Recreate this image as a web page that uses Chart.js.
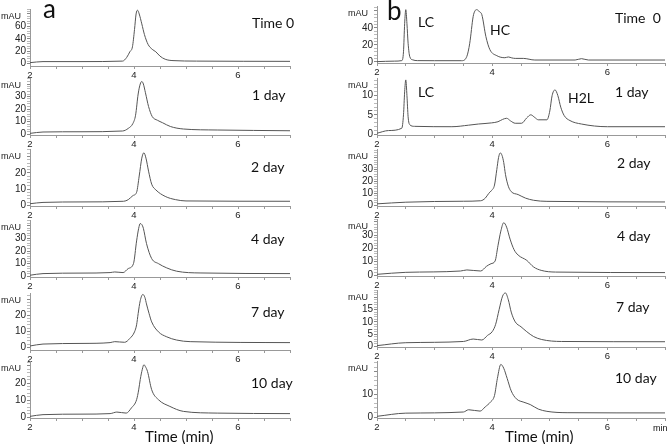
<!DOCTYPE html>
<html>
<head>
<meta charset="utf-8">
<script src="https://cdn.jsdelivr.net/npm/chart.js@4.4.1/dist/chart.umd.min.js"></script>
<style>
  body { margin: 0; background: #fff; }
  #fig { position: relative; width: 669px; height: 444px; overflow: hidden; font-family: Lato, "Open Sans", sans-serif; color: #111; }
  #fig canvas { position: absolute; }
  .note { position: absolute; white-space: pre; line-height: 1; }
</style>
</head>
<body>
<div id="fig"></div>
<script>
// x axis (min) - same for every panel
const xTickValues = [2, 2.5, 3, 3.5, 4, 4.5, 5, 5.5, 6, 6.5, 7];
const xTickLabels = { 2: '2', 4: '4', 6: '6' };

// ---- panel a ----
const timeA0 = [2.0, 2.25, 3.0, 3.78, 3.86, 3.92, 3.97, 4.01, 4.04, 4.07, 4.1, 4.15, 4.2, 4.27, 4.35, 4.42, 4.5, 4.6, 4.75, 5.2, 7.0];
const mauA0  = [1.5, 3.2, 3.2, 4.0, 10, 19, 27, 55, 80, 86, 80, 64, 47, 31, 23, 19, 12, 7, 4.8, 4, 3.6];

const timeA1 = [2.0, 2.25, 3.0, 3.78, 3.89, 3.98, 4.03, 4.08, 4.12, 4.15, 4.18, 4.22, 4.28, 4.35, 4.45, 4.55, 4.7, 4.95, 5.6, 7.0];
const mauA1  = [0.5, 1.6, 1.8, 2.4, 4.5, 8.5, 15, 32, 40, 42, 40, 33, 22, 14, 11, 9, 6, 4, 3.2, 2.6];

const timeA2 = [2.0, 2.25, 3.0, 3.8, 3.89, 3.98, 4.05, 4.1, 4.15, 4.19, 4.23, 4.28, 4.34, 4.42, 4.6, 4.8, 5.0, 7.0];
const mauA2  = [1, 1.8, 2.1, 2.5, 3.5, 6, 8, 18, 29, 32.3, 29, 21, 13, 9.5, 5.5, 3.5, 2.7, 2.5];

const timeA3 = [2.0, 2.25, 3.0, 3.54, 3.63, 3.79, 3.89, 3.99, 4.05, 4.09, 4.12, 4.15, 4.18, 4.24, 4.34, 4.47, 4.63, 4.82, 5.27, 7.0];
const mauA3  = [0.8, 2.1, 2.5, 2.9, 3.4, 2.9, 6.1, 10, 28, 38, 41.8, 41, 38, 26, 14, 10, 6.6, 4, 2.6, 2.1];

const timeA4 = [2.0, 2.25, 3.0, 3.54, 3.63, 3.82, 3.92, 4.01, 4.05, 4.08, 4.12, 4.17, 4.21, 4.24, 4.29, 4.34, 4.47, 4.63, 4.82, 5.08, 7.0];
const mauA4  = [0.8, 2, 2.4, 2.9, 3.5, 3.1, 5.5, 9.6, 14, 21, 29, 32.9, 31, 27, 21, 15.8, 9.6, 6.5, 4.5, 3.5, 2.9];

const timeA5 = [2.0, 2.25, 3.0, 3.54, 3.67, 3.85, 3.95, 4.05, 4.09, 4.12, 4.16, 4.19, 4.22, 4.26, 4.34, 4.47, 4.69, 4.95, 5.6, 7.0];
const mauA5  = [0.6, 1.6, 1.9, 2.2, 3.1, 2.5, 5.5, 10.3, 16, 22, 28, 30.6, 29.5, 26.7, 16.1, 10.3, 6.4, 3.5, 2.5, 2.2];

// ---- panel b ----
const timeB0 = [2.0, 2.3, 2.43, 2.46, 2.48, 2.5, 2.52, 2.54, 2.57, 2.62, 2.7, 3.0, 3.47, 3.56, 3.61, 3.67, 3.7, 3.73, 3.78, 3.82, 3.89, 3.96, 4.08, 4.22, 4.28, 4.34, 4.4, 4.54, 4.74, 5.44, 5.55, 5.67, 7.0];
const mauB0  = [0.4, 1.0, 1.6, 12, 45, 61.5, 45, 22, 6, 2.5, 1.6, 1.5, 1.5, 6.6, 22, 53.6, 60, 61.5, 59, 55.6, 30, 14.5, 7.4, 5, 5.9, 4.8, 4.2, 4.2, 2.3, 2.3, 3.9, 2.3, 2.3];

const timeB1 = [2.0, 2.2, 2.43, 2.46, 2.48, 2.5, 2.52, 2.54, 2.57, 2.65, 3.3, 3.59, 3.76, 3.99, 4.1, 4.18, 4.25, 4.32, 4.4, 4.51, 4.6, 4.67, 4.74, 4.8, 4.95, 5.0, 5.04, 5.09, 5.14, 5.19, 5.25, 5.35, 5.55, 6.0, 7.0];
const mauB1  = [0.2, 0.9, 1.5, 5, 11, 14.1, 10, 4.5, 2.4, 2.0, 1.9, 2.3, 2.6, 2.9, 3.2, 3.8, 4.1, 3.4, 2.8, 2.8, 4.2, 5.0, 4.3, 3.7, 3.7, 6, 10, 11.5, 10, 7, 4.8, 3.5, 2.6, 1.9, 1.9];

const timeB2 = [2.0, 2.5, 3.5, 3.8, 3.88, 3.94, 3.99, 4.04, 4.08, 4.11, 4.14, 4.17, 4.2, 4.23, 4.28, 4.33, 4.45, 4.58, 4.72, 4.95, 7.0];
const mauB2  = [1.2, 2.6, 3.4, 3.8, 6, 10, 12.5, 17, 30, 40, 44, 42, 36, 26, 16, 11.5, 9, 6, 4.2, 3.3, 2.8];

const timeB3 = [2.0, 2.5, 3.45, 3.56, 3.8, 3.9, 3.98, 4.05, 4.1, 4.15, 4.2, 4.25, 4.31, 4.38, 4.45, 4.6, 4.72, 4.85, 5.1, 7.0];
const mauB3  = [0.5, 2, 3, 3.8, 3, 6.5, 8.5, 10.5, 22, 33, 39.3, 36, 27, 19, 15, 11, 6, 3.5, 2.2, 1.8];

const timeB4 = [2.0, 2.5, 3.5, 3.67, 3.82, 3.92, 4.0, 4.06, 4.12, 4.18, 4.23, 4.28, 4.33, 4.4, 4.5, 4.6, 4.72, 4.86, 5.2, 7.0];
const mauB4  = [0.3, 1.5, 2, 3, 2.6, 4.5, 6, 9, 15, 20.5, 21.8, 19, 14, 10, 8, 6, 4, 2.8, 2, 1.9];

const timeB5 = [2.0, 2.5, 3.5, 3.59, 3.79, 3.88, 3.97, 4.04, 4.09, 4.15, 4.2, 4.26, 4.33, 4.42, 4.55, 4.66, 4.8, 4.95, 5.3, 7.0];
const mauB5  = [0.3, 1.7, 2.2, 3.2, 2.6, 4.5, 6.6, 9.5, 17, 23.2, 21.5, 17, 11.5, 8, 6.5, 5.5, 3.5, 2.5, 1.9, 1.8];

// y tick labels per panel
const yLabelsA = [[0, 20, 40, 60], [0, 10, 20, 30], [0, 10, 20], [0, 10, 20, 30], [0, 10, 20], [0, 10, 20]];
const yLabelsB = [[0, 20, 40], [0, 5, 10], [0, 10, 20, 30], [0, 10, 20, 30], [0, 5, 10, 15], [0, 10]];

// panel layout
const cols = {
  a: { left: 0, width: 295, yWidth: 30, padRight: 5 },
  b: { left: 335, width: 334, yWidth: 42, padRight: 4 }
};
const panels = [
  { col: 'a', axis: 66,  t: timeA0, y: mauA0, min: -3.9, max: 88,   step: 20, labels: yLabelsA[0] },
  { col: 'a', axis: 135, t: timeA1, y: mauA1, min: -0.8, max: 44.8, step: 10, labels: yLabelsA[1] },
  { col: 'a', axis: 206, t: timeA2, y: mauA2, min: -0.4, max: 34.6, step: 10, labels: yLabelsA[2] },
  { col: 'a', axis: 277, t: timeA3, y: mauA3, min: -0.6, max: 44.6, step: 10, labels: yLabelsA[3] },
  { col: 'a', axis: 350, t: timeA4, y: mauA4, min: -1.7, max: 33.8, step: 10, labels: yLabelsA[4] },
  { col: 'a', axis: 418, t: timeA5, y: mauA5, min: -0.35, max: 32.8, step: 10, labels: yLabelsA[5] },
  { col: 'b', axis: 63,  t: timeB0, y: mauB0, min: -1.2, max: 65.8, step: 20, labels: yLabelsB[0] },
  { col: 'b', axis: 135, t: timeB1, y: mauB1, min: -0.26, max: 14.6, step: 5, labels: yLabelsB[1] },
  { col: 'b', axis: 206, t: timeB2, y: mauB2, min: -0.6, max: 47.3, step: 10, labels: yLabelsB[2] },
  { col: 'b', axis: 276, t: timeB3, y: mauB3, min: -0.75, max: 42.1, step: 10, labels: yLabelsB[3] },
  { col: 'b', axis: 347, t: timeB4, y: mauB4, min: -0.25, max: 23, step: 5, labels: yLabelsB[4] },
  { col: 'b', axis: 418, t: timeB5, y: mauB5, min: -0.44, max: 24.7, step: 10, labels: yLabelsB[5] }
];

const notes = [
  ['a', 43, -5, 26], ['b', 387, -3, 26],
  ['Time 0', 252, 16, 14], ['1 day', 252, 88, 14], ['2 day', 251, 160, 14],
  ['4 day', 251, 232, 14], ['7 day', 251, 305, 14], ['10 day', 251, 376, 14],
  ['Time  0', 615, 11, 14], ['LC', 418, 15, 14], ['HC', 490, 23, 14],
  ['LC', 418, 85, 14], ['H2L', 568, 91, 14], ['1 day', 615, 85, 14],
  ['2 day', 617, 156, 14], ['4 day', 617, 229, 14], ['7 day', 616, 300, 14], ['10 day', 615, 371, 14],
  ['Time (min)', 145, 429, 15], ['Time (min)', 505, 429, 15]
];

const fig = document.getElementById('fig');
const tickFont = { family: '"Liberation Sans", Arial, sans-serif', size: 10 };
const PAD_TOP = 8, AREA_H = 57, X_H = 14;

const mauLabel = {
  id: 'mauLabel',
  afterDraw(chart) {
    const { ctx, chartArea } = chart;
    ctx.save();
    ctx.font = '9px "Liberation Sans", Arial, sans-serif';
    ctx.fillStyle = '#222';
    ctx.textAlign = 'right';
    ctx.textBaseline = 'middle';
    ctx.fillText('mAU', chartArea.left - 9, chartArea.top + 8);
    ctx.restore();
  }
};

panels.forEach(p => {
  const c = cols[p.col];
  const canvas = document.createElement('canvas');
  canvas.width = c.width;
  canvas.height = PAD_TOP + AREA_H + X_H;
  canvas.style.left = c.left + 'px';
  canvas.style.top = (p.axis - AREA_H - PAD_TOP) + 'px';
  fig.appendChild(canvas);

  const minor = p.step / 5;
  new Chart(canvas, {
    type: 'line',
    data: {
      datasets: [{
        data: p.t.map((t, i) => ({ x: t, y: p.y[i] })),
        borderColor: '#555',
        borderWidth: 1,
        pointRadius: 0,
        cubicInterpolationMode: 'monotone',
        clip: false
      }]
    },
    options: {
      responsive: false,
      animation: false,
      layout: { padding: { top: PAD_TOP, right: c.padRight, left: 0, bottom: 0 } },
      plugins: { legend: { display: false }, tooltip: { enabled: false } },
      scales: {
        x: {
          type: 'linear', min: 2, max: 7,
          afterBuildTicks: s => { s.ticks = xTickValues.map(v => ({ value: v })); },
          afterFit: s => { s.height = X_H; },
          ticks: {
            autoSkip: false, maxRotation: 0, padding: 1, color: '#222',
            font: { family: tickFont.family, size: 9.5 },
            callback: v => xTickLabels[v] || ''
          },
          grid: { drawOnChartArea: false, tickLength: 3, tickColor: '#999' },
          border: { color: '#999' }
        },
        y: {
          min: p.min, max: p.max,
          afterBuildTicks: s => {
            const ticks = [];
            for (let k = Math.ceil(p.min / minor); k * minor <= p.max; k++) {
              ticks.push({ value: Math.round(k * minor * 1000) / 1000 });
            }
            s.ticks = ticks;
          },
          afterFit: s => { s.width = c.yWidth; },
          ticks: {
            autoSkip: false, padding: 1, color: '#222', font: tickFont,
            callback: v => p.labels.includes(v) ? String(v) : ''
          },
          grid: {
            drawOnChartArea: false, tickLength: 3,
            tickColor: ctx => (ctx.tick && Math.abs(ctx.tick.value % p.step) < 1e-6) ? '#888' : '#bbb'
          },
          border: { color: '#999' }
        }
      }
    },
    plugins: [mauLabel]
  });
});

notes.forEach(([text, x, y, size]) => {
  const d = document.createElement('div');
  d.className = 'note';
  d.textContent = text;
  d.style.left = x + 'px';
  d.style.top = y + 'px';
  d.style.fontSize = size + 'px';
  fig.appendChild(d);
});

const minLabel = document.createElement('div');
minLabel.className = 'note';
minLabel.textContent = 'min';
minLabel.style.cssText = 'left:653px;top:424px;font-size:9px;font-family:"Liberation Sans",Arial,sans-serif;';
fig.appendChild(minLabel);
</script>
</body>
</html>
